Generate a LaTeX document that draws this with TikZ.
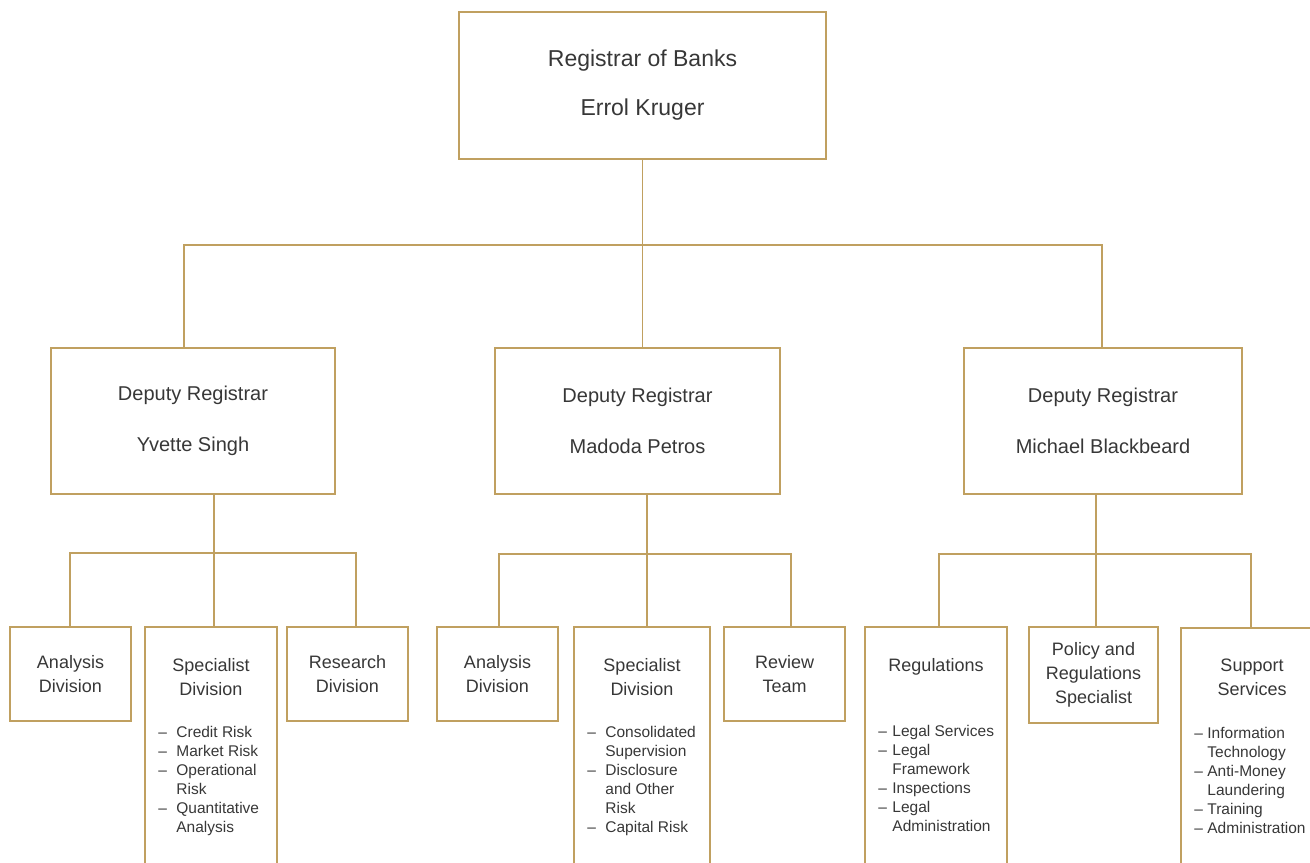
\documentclass[tikz,border=0pt]{standalone}
\usepackage{fontspec}
\setmainfont{Liberation Sans}
\definecolor{gold}{RGB}{192,160,96}
\definecolor{ink}{RGB}{55,55,55}
\newcommand{\lsitem}[2]{\makebox[#1][l]{\textendash}#2}
\newcommand{\lscont}[2]{\hspace*{#1}#2}
\begin{document}
\begin{tikzpicture}[x=0.5pt,y=-0.5pt,
  box/.style={draw=gold, line width=0.8pt, inner sep=0pt, align=center, text=ink},
  link/.style={draw=gold, line width=0.8pt},
  ftop/.style={font=\fontsize{11.5pt}{24.5pt}\selectfont},
  fdep/.style={font=\fontsize{10pt}{25.5pt}\selectfont},
  funit/.style={font=\fontsize{9pt}{12pt}\selectfont},
  ttl/.style={font=\fontsize{9pt}{12pt}\selectfont, align=center, text=ink, inner sep=0pt},
  flist/.style={font=\fontsize{7.75pt}{9.5pt}\selectfont, align=left, inner sep=0pt, anchor=north west, text=ink}]
\useasboundingbox (0,0) rectangle (1310,862);
\clip (0,0) rectangle (1310,862);

% top
\node[box, ftop, minimum width=183.5pt, minimum height=73.5pt] (top) at (642.5,85.5) {Registrar of Banks\\Errol Kruger};

% deputies
\node[box, fdep, minimum width=142pt, minimum height=73pt] (depL) at (193,421) {Deputy Registrar\\Yvette Singh};
\node[box, fdep, minimum width=142.5pt, minimum height=73pt] (depM) at (637.5,421) {Deputy Registrar\\Madoda Petros};
\node[box, fdep, minimum width=139pt, minimum height=73pt] (depR) at (1103,421) {Deputy Registrar\\Michael Blackbeard};

% short units
\node[box, funit, minimum width=60.5pt, minimum height=47pt] (anaL) at (70.5,674) {Analysis\\Division};
\node[box, funit, minimum width=60.5pt, minimum height=47pt] (resL) at (347.5,674) {Research\\Division};
\node[box, funit, minimum width=60.5pt, minimum height=47pt] (anaM) at (497.5,674) {Analysis\\Division};
\node[box, funit, minimum width=60.5pt, minimum height=47pt] (revM) at (784.5,674) {Review\\Team};
\node[box, funit, minimum width=64.5pt, minimum height=48pt] (pol) at (1093.5,675) {Policy and\\Regulations\\Specialist};

% tall units (cut by the page edge)
\node[box, minimum width=66pt, minimum height=136.5pt] (speL) at (211,763.5) {};
\node[box, minimum width=68pt, minimum height=136.5pt] (speM) at (642,763.5) {};
\node[box, minimum width=71pt, minimum height=136.5pt] (reg) at (936,763.5) {};
\node[box, minimum width=80pt, minimum height=136pt] (sup) at (1261,764) {};

\node[ttl] (speLt) at (211,677) {Specialist\\Division};
\node[ttl] (speMt) at (642,677) {Specialist\\Division};
\node[ttl] (regt) at (936,667) {Regulations};
\node[ttl] (supt) at (1252,677.5) {Support\\Services};

\node[flist] (speLl) at (158,726) {\lsitem{9pt}{Credit Risk}\\\lsitem{9pt}{Market Risk}\\\lsitem{9pt}{Operational}\\\lscont{9pt}{Risk}\\\lsitem{9pt}{Quantitative}\\\lscont{9pt}{Analysis}};
\node[flist] (speMl) at (587,726) {\lsitem{9pt}{Consolidated}\\\lscont{9pt}{Supervision}\\\lsitem{9pt}{Disclosure}\\\lscont{9pt}{and Other}\\\lscont{9pt}{Risk}\\\lsitem{9pt}{Capital Risk}};
\node[flist] (regl) at (878,725) {\lsitem{7pt}{Legal Services}\\\lsitem{7pt}{Legal}\\\lscont{7pt}{Framework}\\\lsitem{7pt}{Inspections}\\\lsitem{7pt}{Legal}\\\lscont{7pt}{Administration}};
\node[flist] (supl) at (1194,727) {\lsitem{6.5pt}{Information}\\\lscont{6.5pt}{Technology}\\\lsitem{6.5pt}{Anti-Money}\\\lscont{6.5pt}{Laundering}\\\lsitem{6.5pt}{Training}\\\lsitem{6.5pt}{Administration}};

% level 1 connectors
\coordinate (b1L) at (184,245);
\coordinate (b1R) at (1102,245);
\draw[link] (top.south) -- (top.south |- depM.north);
\draw[link] (b1L |- depL.north) -- (b1L) -- (b1R) -- (b1R |- depR.north);

% level 2 left
\coordinate (b2L) at (214,553);
\coordinate (b2La) at (70,553);
\coordinate (b2Lc) at (356,553);
\draw[link] (b2L |- depL.south) -- (b2L |- speL.north);
\draw[link] (b2La |- anaL.north) -- (b2La) -- (b2Lc) -- (b2Lc |- resL.north);

% level 2 middle
\coordinate (b2M) at (647,554);
\coordinate (b2Ma) at (499,554);
\coordinate (b2Mc) at (791,554);
\draw[link] (b2M |- depM.south) -- (b2M |- speM.north);
\draw[link] (b2Ma |- anaM.north) -- (b2Ma) -- (b2Mc) -- (b2Mc |- revM.north);

% level 2 right
\coordinate (b2R) at (1096,554);
\coordinate (b2Ra) at (939,554);
\coordinate (b2Rc) at (1251,554);
\draw[link] (b2R |- depR.south) -- (b2R |- pol.north);
\draw[link] (b2Ra |- reg.north) -- (b2Ra) -- (b2Rc) -- (b2Rc |- sup.north);
\end{tikzpicture}
\end{document}
